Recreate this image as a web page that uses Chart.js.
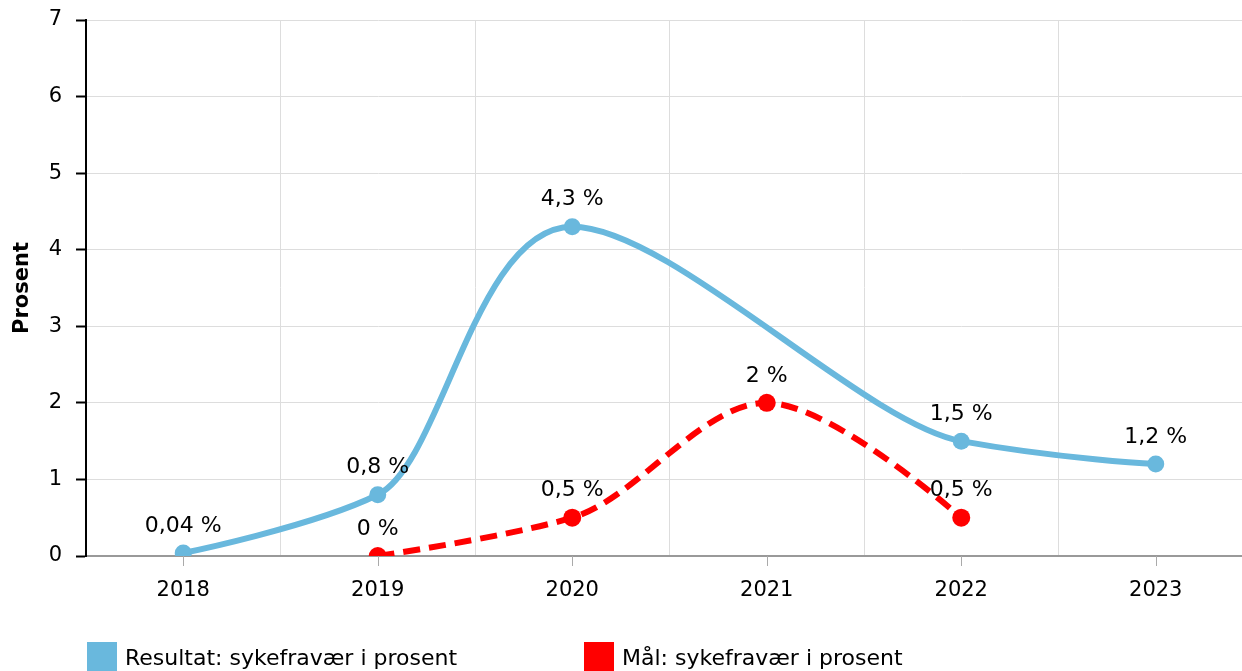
<!DOCTYPE html>
<html>
<head>
<meta charset="utf-8">
<script src="https://cdn.jsdelivr.net/npm/chart.js@4.4.1/dist/chart.umd.min.js"></script>
<style>
  html, body { margin: 0; padding: 0; background: #fff; overflow: hidden; }
  #wrap { position: relative; width: 1262px; height: 690px; }
</style>
</head>
<body>
<div id="wrap"><canvas id="myChart"></canvas></div>
<script>
const years = ['2018', '2019', '2020', '2021', '2022', '2023'];
const resultat = [0.04, 0.8, 4.3, null, 1.5, 1.2];
const maal = [null, 0, 0.5, 2, 0.5, null];
const yMin = 0, yMax = 7, yStep = 1;

const blue = '#69b8dd';
const red = '#ff0000';
const font = 'DejaVu Sans, Verdana, sans-serif';

function fmt(v) {
  return String(v).replace('.', ',') + ' %';
}

// smooth line: monotone tangents (weighted harmonic mean), no arms at the ends
const spline = {
  id: 'spline',
  beforeDatasetsDraw(chart) {
    chart.data.datasets.forEach((ds, i) => {
      const line = chart.getDatasetMeta(i).dataset;
      if (!line) return;
      line.updateControlPoints(chart.chartArea);
      const pts = line.points.filter(p => !p.skip);
      pts.forEach((p, k) => {
        p.cp1x = p.cp2x = p.x;
        p.cp1y = p.cp2y = p.y;
        const a = pts[k - 1], b = pts[k + 1];
        if (!a || !b) return;
        const h0 = p.x - a.x, h1 = b.x - p.x;
        const s0 = (p.y - a.y) / h0, s1 = (b.y - p.y) / h1;
        let m = 0;
        if (s0 * s1 > 0) {
          const w1 = 2 * h1 + h0, w2 = h1 + 2 * h0;
          m = (w1 + w2) / (w1 / s0 + w2 / s1);
        }
        const arm = (h0 + h1) / 6;
        p.cp1x = p.x - arm; p.cp1y = p.y - m * arm;
        p.cp2x = p.x + arm; p.cp2y = p.y + m * arm;
      });
      line._path = undefined;
    });
  }
};

// value labels over each point
const pointLabels = {
  id: 'pointLabels',
  afterDatasetsDraw(chart) {
    const ctx = chart.ctx;
    ctx.save();
    ctx.font = '22px ' + font;
    ctx.fillStyle = '#000';
    ctx.textAlign = 'center';
    ctx.textBaseline = 'middle';
    chart.data.datasets.forEach((ds, i) => {
      const meta = chart.getDatasetMeta(i);
      meta.data.forEach((pt, j) => {
        if (ds.data[j] == null) return;
        ctx.fillText(fmt(ds.data[j]), pt.x, pt.y - 27);
      });
    });
    ctx.restore();
  }
};

// small tick marks under the category labels + legend at bottom left
const extras = {
  id: 'extras',
  afterDraw(chart) {
    const ctx = chart.ctx;
    const x = chart.scales.x;
    const area = chart.chartArea;
    ctx.save();
    ctx.strokeStyle = '#aaa';
    ctx.lineWidth = 1;
    years.forEach((y, i) => {
      const px = Math.round(x.getPixelForValue(i)) + 0.5;
      ctx.beginPath();
      ctx.moveTo(px, area.bottom);
      ctx.lineTo(px, area.bottom + 10);
      ctx.stroke();
    });

    const items = [
      { text: 'Resultat: sykefravær i prosent', color: blue, dx: 0 },
      { text: 'Mål: sykefravær i prosent', color: red, dx: 497 }
    ];
    ctx.font = '22px ' + font;
    ctx.textBaseline = 'alphabetic';
    items.forEach(it => {
      const lx = 87 + it.dx;
      ctx.fillStyle = it.color;
      ctx.fillRect(lx, area.bottom + 86, 30, 30);
      ctx.fillStyle = '#000';
      ctx.fillText(it.text, lx + 38, area.bottom + 109);
    });
    ctx.restore();
  }
};

const ctx = document.getElementById('myChart');
new Chart(ctx, {
  type: 'line',
  data: {
    labels: years,
    datasets: [{
      label: 'Resultat: sykefravær i prosent',
      data: resultat,
      borderColor: blue,
      backgroundColor: blue,
      borderWidth: 6,
      pointRadius: 8.5,
      pointHoverRadius: 8.5,
      pointBorderWidth: 0,
      tension: 0.4,
      spanGaps: true
    }, {
      label: 'Mål: sykefravær i prosent',
      data: maal,
      borderColor: red,
      backgroundColor: red,
      borderWidth: 6,
      borderDash: [17, 9],
      pointRadius: 9,
      pointHoverRadius: 9,
      pointBorderWidth: 0,
      tension: 0.4,
      spanGaps: true
    }]
  },
  options: {
    responsive: true,
    maintainAspectRatio: false,
    animation: false,
    layout: { padding: { left: 0, top: 20, right: 3, bottom: 74 } },
    plugins: {
      legend: { display: false },
      tooltip: { enabled: false }
    },
    scales: {
      x: {
        offset: true,
        grid: { offset: true, color: '#dddddd', drawTicks: false },
        border: { color: '#999', width: 2 },
        ticks: { color: '#000', font: { family: font, size: 21 }, padding: 22 },
        afterFit(scale) { scale.height = 60; }
      },
      y: {
        min: yMin,
        max: yMax,
        ticks: { stepSize: yStep, color: '#000', font: { family: font, size: 21 }, padding: 14 },
        grid: { color: '#dddddd', tickColor: '#000', tickLength: 10, tickWidth: 2 },
        border: { color: '#000', width: 2 },
        title: {
          display: true,
          text: 'Prosent',
          color: '#000',
          font: { family: font, size: 21, weight: 'bold' },
          padding: { top: 10, bottom: 0 }
        },
        afterFit(scale) {
          scale.width = 86;
          scale.paddingTop = 0;
          scale.paddingBottom = 0;
        }
      }
    }
  },
  plugins: [spline, pointLabels, extras]
});
</script>
</body>
</html>
